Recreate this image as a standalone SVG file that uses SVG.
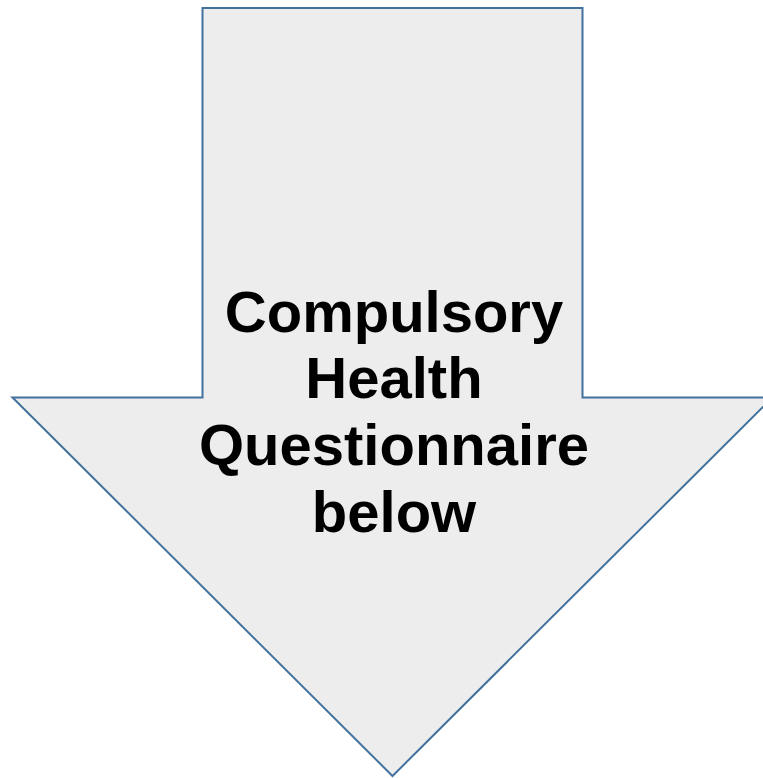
<svg xmlns="http://www.w3.org/2000/svg" width="763" height="778" viewBox="0 0 763 778">
<style>
.arrow{fill:#EDEDED;stroke:#41719C;stroke-width:2;stroke-linejoin:miter}
.lbl{font-family:"Liberation Sans",Arial,sans-serif;font-weight:bold;font-size:58px;fill:#000;text-anchor:middle}
</style>
<rect width="763" height="778" fill="#FFFFFF"/>
<g id="arrow">
<polygon class="arrow" points="202.5,8 582.5,8 582.5,397.5 772.5,397.5 392.5,776 12.5,397.5 202.5,397.5"/>
<text class="lbl" x="394" y="331.7">Compulsory</text>
<text class="lbl" x="394" y="398">Health</text>
<text class="lbl" x="394" y="465">Questionnaire</text>
<text class="lbl" x="394" y="531.7">below</text>
</g>
<g id="connectors"/>
</svg>
